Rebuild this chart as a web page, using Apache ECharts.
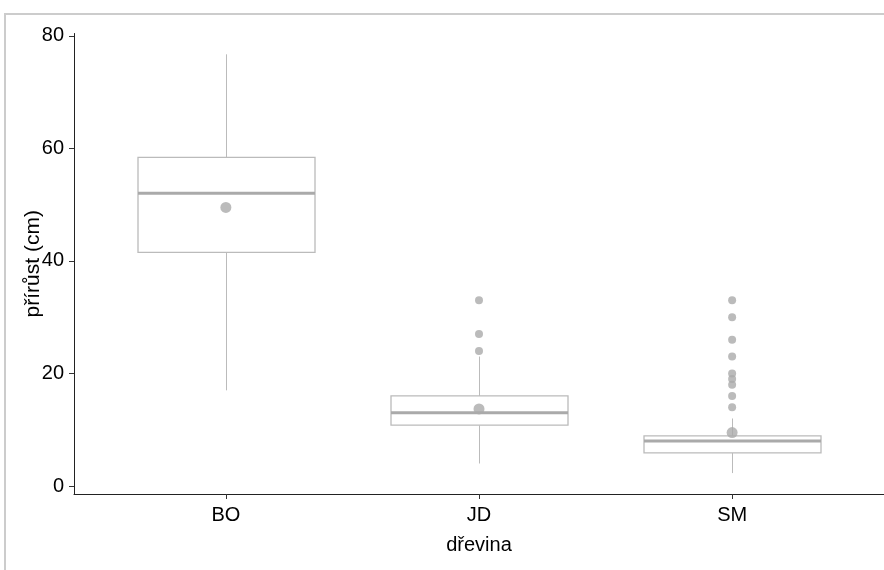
<!DOCTYPE html>
<html>
<head>
<meta charset="utf-8">
<script src="https://cdn.jsdelivr.net/npm/echarts@6/dist/echarts.min.js"></script>
<style>html,body{margin:0;padding:0;background:#fff;}#c{width:884px;height:570px;}</style>
</head>
<body>
<div id="c"></div>
<script>
// ---- data ----
const categories = ['BO', 'JD', 'SM'];
// [min whisker, Q1, median, Q3, max whisker]
const boxStats = [
  [17, 41.5, 52, 58.4, 76.7],
  [4, 10.8, 13, 16, 23],
  [2.3, 5.9, 8, 8.9, 12]
];
const means = [49.5, 13.7, 9.5];
const outliersJD = [33, 27, 24];
const outliersSM = [33, 30, 26, 23, 20, 19, 18, 16, 14];
const yTicks = [0, 20, 40, 60, 80];

// ---- build ----
const catPos = categories.map((c, i) => i + 1);
const boxData = boxStats.map((s, i) => [catPos[i]].concat(s));
const meanData = means.map((m, i) => [catPos[i], m]);
const outlierData = []
  .concat(outliersJD.map(v => [catPos[1], v]))
  .concat(outliersSM.map(v => [catPos[2], v]));

const BOXPX = 177;
const FONT = '"Liberation Sans", Arial, sans-serif';
const BOXCOL = '#bbbbbb';
const chart = echarts.init(document.getElementById('c'));
chart.setOption({
  animation: false,
  backgroundColor: '#ffffff',
  graphic: [{
    type: 'rect', z: -10, silent: true,
    shape: { x: 5, y: 14, width: 1000, height: 700 },
    style: { fill: 'none', stroke: '#cccccc', lineWidth: 2 }
  }],
  grid: { left: 74, top: 33.5, right: 0, bottom: 76, containLabel: false },
  xAxis: {
    type: 'value', min: 0.4, max: 3.6,
    name: 'dřevina', nameLocation: 'middle', nameGap: 41, nameMoveOverlap: false,
    nameTextStyle: { fontFamily: FONT, fontSize: 20, color: '#000' },
    axisLine: { show: true, onZero: false, lineStyle: { color: '#222', width: 1 } },
    axisTick: { show: true, length: 5, customValues: catPos, lineStyle: { color: '#333' } },
    axisLabel: { customValues: catPos, formatter: v => categories[Math.round(v) - 1] || '',
      fontFamily: FONT, fontSize: 20, color: '#000', margin: 11 },
    splitLine: { show: false }
  },
  yAxis: {
    type: 'value', min: -1.42, max: 80.4,
    name: 'přírůst (cm)', nameLocation: 'middle', nameGap: 30, nameMoveOverlap: false,
    nameTextStyle: { fontFamily: FONT, fontSize: 21, color: '#000' },
    axisLine: { show: true, onZero: false, lineStyle: { color: '#222', width: 1 } },
    axisTick: { show: true, length: 5, customValues: yTicks, lineStyle: { color: '#333' } },
    axisLabel: { customValues: yTicks, fontFamily: FONT, fontSize: 20, color: '#000', margin: 10 },
    splitLine: { show: false }
  },
  series: [
    {
      type: 'custom', data: boxData, z: 2, silent: true,
      renderItem: function (params, api) {
        const x = api.value(0);
        const pMin = api.coord([x, api.value(1)]);
        const pQ1 = api.coord([x, api.value(2)]);
        const pMed = api.coord([x, api.value(3)]);
        const pQ3 = api.coord([x, api.value(4)]);
        const pMax = api.coord([x, api.value(5)]);
        const h = BOXPX / 2;
        const cx = Math.round(pMed[0]) + 0.5;
        return {
          type: 'group',
          children: [
            { type: 'line', shape: { x1: cx, y1: pMax[1], x2: cx, y2: pQ3[1] },
              style: { stroke: BOXCOL, lineWidth: 1 } },
            { type: 'line', shape: { x1: cx, y1: pQ1[1], x2: cx, y2: pMin[1] },
              style: { stroke: BOXCOL, lineWidth: 1 } },
            { type: 'rect', shape: { x: cx - h, y: pQ3[1], width: BOXPX, height: pQ1[1] - pQ3[1] },
              style: { fill: '#ffffff', stroke: BOXCOL, lineWidth: 1.3 } },
            { type: 'line', shape: { x1: cx - h, y1: pMed[1], x2: cx + h, y2: pMed[1] },
              style: { stroke: '#aaaaaa', lineWidth: 3 } }
          ]
        };
      }
    },
    {
      type: 'scatter', data: outlierData, symbolSize: 8, z: 4, silent: true,
      itemStyle: { color: '#aaaaaa' }
    },
    {
      type: 'scatter', data: meanData, symbolSize: 11, z: 5, silent: true,
      itemStyle: { color: '#aaaaaa' }
    }
  ]
});
</script>
</body>
</html>
